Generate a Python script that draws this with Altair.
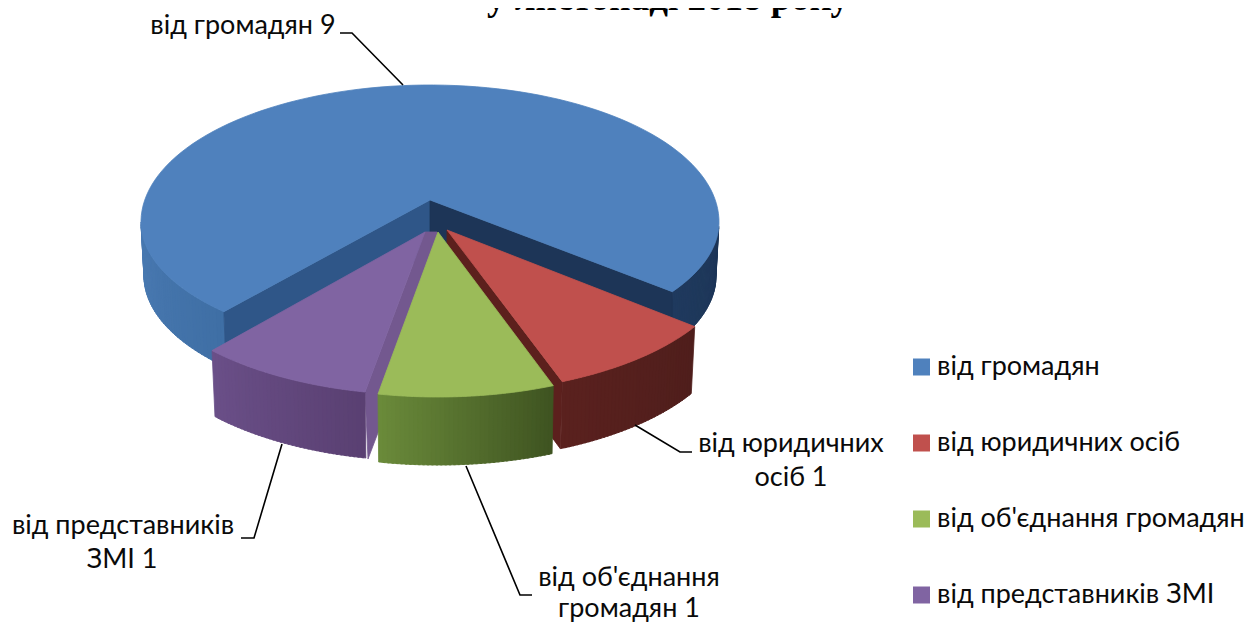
import math
import altair as alt
import pandas as pd

CATEGORIES = ["від громадян", "від юридичних осіб", "від об'єднання громадян", "від представників ЗМІ"]
VALUES = [9, 1, 1, 1]
TOP_COLORS = ["#4f81bd", "#c0504d", "#9bbb59", "#8064a2"]
TITLE = "у листопаді 2018 року"
FONT = "Lato"
FONT_SIZE = 27

W, H = 1246, 616

# projected pie geometry
RX, RY = 289, 137
small_sweep = VALUES[1] / sum(VALUES) * 360 * 1.183
START = 31
b = [START + i * small_sweep for i in range(4)]


def ell(cx, cy, t, rx=RX, ry=RY, ry_low=None):
    r = math.radians(t)
    s = math.sin(r)
    use = ry_low if (ry_low and s > 0) else ry
    return cx + rx * math.cos(r), cy + use * s


def arc(cx, cy, t0, t1, rx=RX, ry=RY, ry_low=None, n=40):
    return [ell(cx, cy, t0 + (t1 - t0) * i / n, rx, ry, ry_low) for i in range(n + 1)]


def mix(c1, c2, f):
    a = [int(c1[i:i + 2], 16) for i in (1, 3, 5)]
    d = [int(c2[i:i + 2], 16) for i in (1, 3, 5)]
    return "#%02x%02x%02x" % tuple(round(a[i] + (d[i] - a[i]) * f) for i in range(3))


rows = []
next_pid = [0]


def poly(pts, color):
    pid = next_pid[0]
    next_pid[0] += 1
    pts = list(pts) + [pts[0]]
    for i, (x, y) in enumerate(pts):
        rows.append({"pid": pid, "seq": i, "x": x, "y": y, "color": color})


def wall(cx, cy, t0, t1, depth, rx2, c0, c1, ry=RY, ry_low=None, ry2=None, bands=40):
    for k in range(bands):
        a0 = t0 + (t1 - t0) * k / bands
        a1 = t0 + (t1 - t0) * (k + 1.5) / bands
        a1 = min(a1, t1) if t1 > t0 else max(a1, t1)
        top = arc(cx, cy, a0, a1, RX, ry, ry_low, 3)
        bot = arc(cx, cy + depth, a1, a0, rx2, ry2 or ry, None, 3)
        poly(top + bot, mix(c0, c1, k / (bands - 1)))


# blue (exploded backwards)
BCX, BCY, BVY = 430, 222, 200
blue_t0, blue_t1 = 135.5, 393
bA = ell(BCX, BCY, blue_t0, ry_low=128)
bB = ell(BCX, BCY, blue_t1, ry_low=128)
wall(BCX, BCY, 180, blue_t0, 54, 286, "#4a7ab2", "#3f6fa5", ry_low=128, ry2=130)
wall(BCX, BCY, 362, blue_t1, 54, 286, "#1d3557", "#1f3a5e", ry_low=128, ry2=130)
poly([(BCX, BVY), bA, (bA[0] + 2, bA[1] + 54), (BCX, BVY + 54)], "#2f5688")
poly([(BCX, BVY), bB, (bB[0], bB[1] + 54), (BCX, BVY + 54)], "#1d3557")
poly([(BCX, BVY)] + arc(BCX, BCY, blue_t0, blue_t1, ry_low=128, n=120), TOP_COLORS[0])

# red
RCX, RCY, RVY = 447, 256, 230
p = ell(RCX, RCY, b[1])
poly([(RCX, RVY), p, (p[0] - 2, p[1] + 67), (RCX, RVY + 66)], "#5c201d")
wall(RCX, RCY, b[1], b[0], 67, 285, "#5a211e", "#4f1e1c")
poly([(RCX, RVY)] + arc(RCX, RCY, b[0], b[1]), TOP_COLORS[1])

# purple
PCX, PCY, PVY = 425, 258, 232
p = ell(PCX, PCY, b[2])
poly([(PCX, PVY), p, (p[0] + 3, p[1] + 67), (PCX + 12, PVY + 45), (PCX + 12, PVY)], "#73588f")
wall(PCX, PCY, b[3], b[2], 66, 285, "#6a4f88", "#5a4072")
poly([(PCX, PVY)] + arc(PCX, PCY, b[2], b[3]), TOP_COLORS[3])

# green
GCX, GCY, GVY = 438, 260, 232
wall(GCX, GCY, b[2], b[1], 68, 286, "#6a8a3a", "#3f5421")
poly([(GCX, GVY)] + arc(GCX, GCY, b[1], b[2]), TOP_COLORS[2])

polys = pd.DataFrame(rows)

LEADERS = [
    [(340, 33), (352, 33), (403, 85)],
    [(635, 425), (680, 452), (692, 452)],
    [(466, 466), (520, 595), (532, 595)],
    [(282, 444), (254, 538), (241, 538)],
]
leaders = pd.DataFrame(
    [{"lid": i, "seq": j, "x": x, "y": y} for i, l in enumerate(LEADERS) for j, (x, y) in enumerate(l)]
)

LABELS = [
    ("від громадян 9", 243, 26),
    ("від юридичних", 791, 444),
    ("осіб 1", 791, 478),
    ("від об'єднання", 629, 578),
    ("громадян 1", 629, 609),
    ("від представників", 123, 526),
    ("ЗМІ  1", 122, 560),
]
labels = pd.DataFrame(LABELS, columns=["text", "x", "y"])

LEG_Y = [367, 443, 519, 595]
legend = pd.DataFrame({"text": CATEGORIES, "y": LEG_Y, "color": TOP_COLORS, "x": 921.5, "tx": 937})
title = pd.DataFrame({"text": [TITLE], "x": [668], "y": [10]})

X = alt.X("x:Q", scale=alt.Scale(domain=[8, W], range=[0, W - 8]), axis=None)
Y = alt.Y("y:Q", scale=alt.Scale(domain=[8, H + 8], range=[0, H]), axis=None)

pie = (
    alt.Chart(polys)
    .mark_line(filled=True, strokeWidth=0.8, interpolate="linear")
    .encode(
        x=X, y=Y, order="seq:Q", detail="pid:N",
        fill=alt.Fill("color:N", scale=None),
        stroke=alt.Stroke("color:N", scale=None),
    )
)
lead = (
    alt.Chart(leaders)
    .mark_line(color="#000000", strokeWidth=1.6)
    .encode(x=X, y=Y, order="seq:Q", detail="lid:N")
)
lab = (
    alt.Chart(labels)
    .mark_text(font=FONT, fontSize=FONT_SIZE, color="#0a0a0a", align="center", baseline="middle")
    .encode(x=X, y=Y, text="text:N")
)
sq = (
    alt.Chart(legend)
    .mark_point(shape="square", filled=True, size=289, opacity=1)
    .encode(x=X, y=Y, fill=alt.Fill("color:N", scale=None))
)
legtxt = (
    alt.Chart(legend)
    .mark_text(font=FONT, fontSize=FONT_SIZE, color="#0a0a0a", align="left", baseline="middle")
    .encode(x=alt.X("tx:Q", scale=alt.Scale(domain=[8, W], range=[0, W - 8]), axis=None), y=Y, text="text:N")
)
ttl = (
    alt.Chart(title)
    .mark_text(font="Liberation Serif", fontSize=37, fontWeight="bold", color="#000000",
               align="center", baseline="alphabetic")
    .encode(x=X, y=Y, text="text:N")
)

chart = (
    alt.layer(pie, lead, lab, sq, legtxt, ttl)
    .resolve_scale(fill="independent", stroke="independent")
    .properties(width=W - 8, height=H, padding=0, autosize=alt.AutoSizeParams(type="none"))
    .configure_view(stroke=None)
)
chart.save("out.html", embed_options={"renderer": "svg", "actions": False})
